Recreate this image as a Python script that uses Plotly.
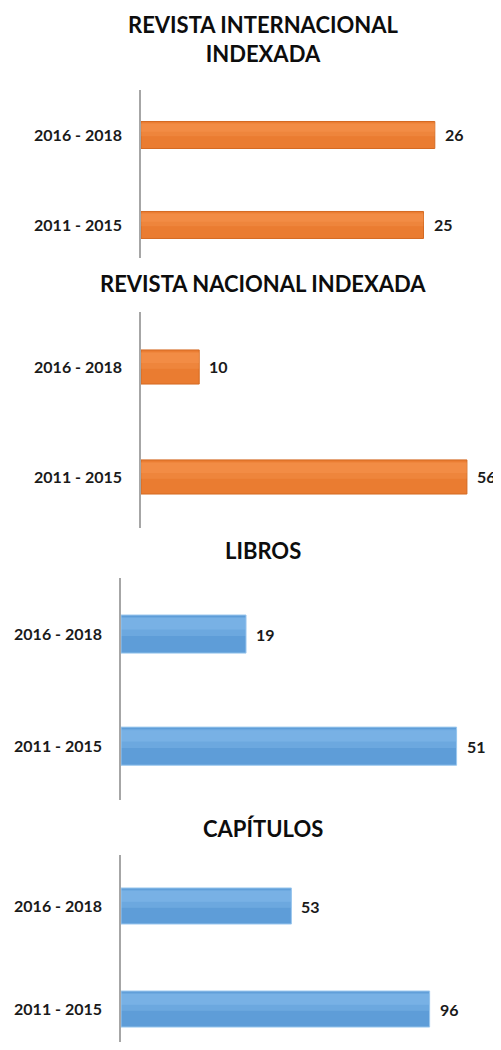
import plotly.graph_objects as go

periods = ["2011 - 2015", "2016 - 2018"]
titles = ["REVISTA INTERNACIONAL<br>INDEXADA", "REVISTA NACIONAL INDEXADA", "LIBROS", "CAPÍTULOS"]
rev_internacional = [25, 26]
rev_nacional = [56, 10]
libros = [51, 19]
capitulos = [96, 53]
series = [rev_internacional, rev_nacional, libros, capitulos]

ORANGE = "#EA7C31"
ORANGE_HI = "#F89A55"
ORANGE_LINE = "#D46A22"
BLUE = "#5E9DD8"
BLUE_HI = "#8EC3F0"
BLUE_LINE = "#9CC8EE"
colors = [ORANGE, ORANGE, BLUE, BLUE]
his = [ORANGE_HI, ORANGE_HI, BLUE_HI, BLUE_HI]
lines = [ORANGE_LINE, ORANGE_LINE, BLUE_LINE, BLUE_LINE]

OFF = 8  # browser body margin
W, H = 493, 1034
FONT = "Lato"

def px(v):
    return v - OFF

panels = [
    dict(top=90, bot=258, left=141, ppu=11.3, yr=[-0.367, 1.5], bw=0.3, ty=39),
    dict(top=312, bot=528, left=141, ppu=5.82, yr=[-0.464, 1.5], bw=0.31, ty=284),
    dict(top=578, bot=800, left=121, ppu=6.58, yr=[-0.48, 1.5], bw=0.34, ty=550),
    dict(top=855, bot=1042, left=121, ppu=3.215, yr=[-0.32, 1.495], bw=0.35, ty=828),
]
RIGHT = 480

fig = go.Figure()
for i, (vals, p) in enumerate(zip(series, panels)):
    n = "" if i == 0 else str(i + 1)
    bw = p["bw"]
    fig.add_trace(go.Bar(
        x=vals, y=periods, orientation="h",
        xaxis="x" + n, yaxis="y" + n,
        width=bw, offset=-bw / 2,
        marker=dict(color=colors[i], line=dict(color=lines[i], width=1)),
        showlegend=False, hoverinfo="skip",
    ))
    # soft highlight bands (upper part of the bevelled bar)
    fig.add_trace(go.Bar(
        x=vals, y=periods, orientation="h",
        xaxis="x" + n, yaxis="y" + n,
        width=bw * 0.5, offset=-bw * 0.05,
        marker=dict(color=his[i], opacity=0.3, line=dict(width=0)),
        showlegend=False, hoverinfo="skip",
    ))
    fig.add_trace(go.Bar(
        x=vals, y=periods, orientation="h",
        xaxis="x" + n, yaxis="y" + n,
        width=bw * 0.3, offset=bw * 0.12,
        marker=dict(color=his[i], opacity=0.35, line=dict(width=0)),
        showlegend=False, hoverinfo="skip",
    ))
    for v, cat in zip(vals, periods):
        fig.add_annotation(x=v, y=cat, xref="x" + n, yref="y" + n, text="<b>%d</b>" % v,
                           showarrow=False, xanchor="left", yanchor="middle", xshift=8,
                           font=dict(family=FONT, size=16, color="#1a1a1a"))
    left = px(p["left"])
    xmax = (RIGHT - p["left"]) / p["ppu"]
    fig.update_layout(**{
        "xaxis" + n: dict(domain=[left / W, px(RIGHT) / W], range=[0, xmax],
                          visible=False, anchor="y" + n, fixedrange=True),
        "yaxis" + n: dict(domain=[max(0, 1 - px(p["bot"]) / H), 1 - px(p["top"]) / H], range=p["yr"],
                          type="category", anchor="x" + n, showline=True,
                          linecolor="#A6A6A6", linewidth=1.5, showgrid=False,
                          ticks="", ticklabelstandoff=14, fixedrange=True,
                          tickfont=dict(family=FONT, size=16, color="#1a1a1a", weight="bold")),
    })
    fig.add_annotation(text="<b>" + titles[i] + "</b>", xref="paper", yref="paper",
                       x=px(263) / W, y=1 - px(p["ty"]) / H, showarrow=False,
                       xanchor="center", yanchor="middle",
                       font=dict(family=FONT, size=22, color="#0d0d0d"))

fig.update_layout(width=W, height=H, margin=dict(l=0, r=0, t=0, b=0),
                  paper_bgcolor="white", plot_bgcolor="white", barmode="overlay")
fig.write_html("out.html")
